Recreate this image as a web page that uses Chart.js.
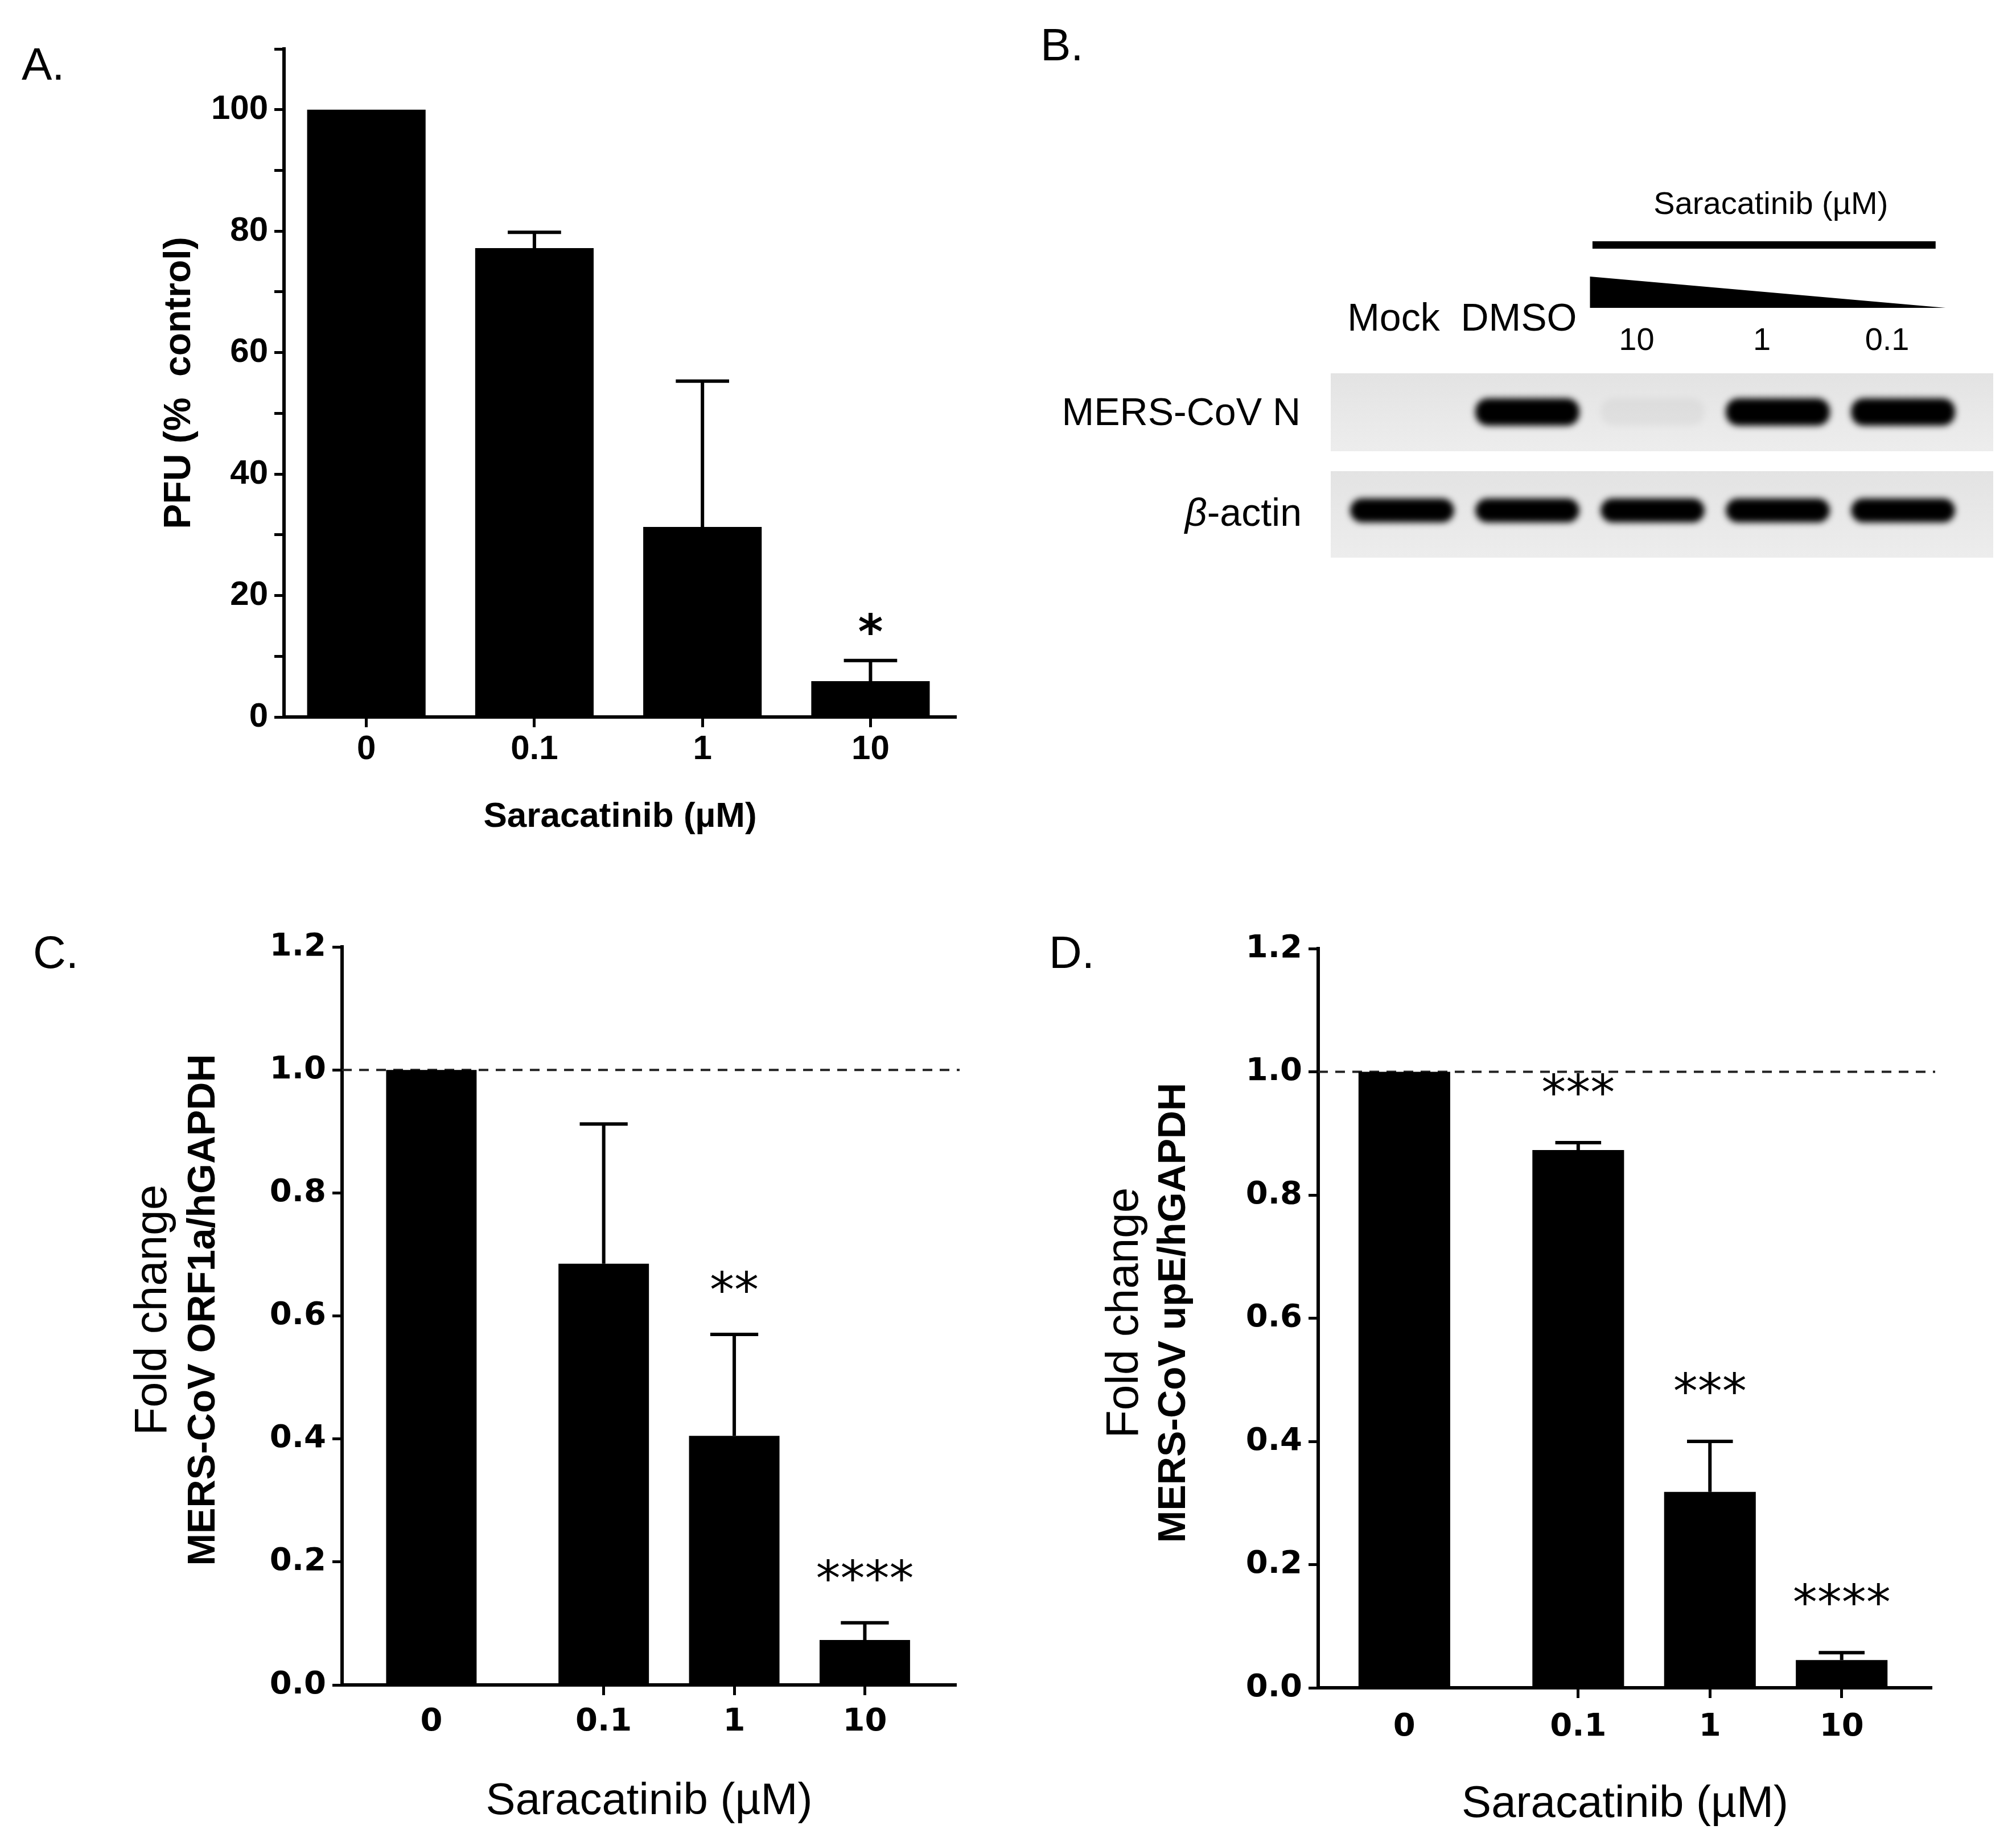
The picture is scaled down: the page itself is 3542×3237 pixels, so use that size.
<!DOCTYPE html>
<html lang="en">
<head>
<meta charset="UTF-8">
<title>Saracatinib inhibits MERS-CoV</title>
<script src="https://cdn.jsdelivr.net/npm/chart.js"></script>
<style>
  html, body { margin: 0; padding: 0; background: #fff; }
  #fig { position: relative; width: 3542px; height: 3237px; overflow: hidden; }
  canvas { position: absolute; }
</style>
</head>
<body>
<div id="fig">
  <canvas id="chartA" width="1771" height="1550" style="left:0;top:0"></canvas>
  <canvas id="chartB" width="1771" height="1100" style="left:1771px;top:0"></canvas>
  <canvas id="chartC" width="1771" height="1687" style="left:0;top:1550px"></canvas>
  <canvas id="chartD" width="1771" height="1687" style="left:1771px;top:1550px"></canvas>
</div>
<script>
// ---- data ----
const doses = ['0', '0.1', '1', '10'];

// A: plaque assay
const pfuMean = [100, 77.2, 31.3, 5.9];
const pfuSd = [0, 2.6, 24.0, 3.4];
const pfuSig = ['', '', '', '*'];

// C: ORF1a qPCR
const orf1aMean = [1.0, 0.685, 0.405, 0.073];
const orf1aSd = [0, 0.227, 0.165, 0.028];
const orf1aSig = ['', '', '**', '****'];

// D: upE qPCR
const upEMean = [1.0, 0.873, 0.318, 0.045];
const upESd = [0, 0.012, 0.082, 0.012];
const upESig = ['', '***', '***', '****'];

// B: western blot, relative band intensity per lane
const blotLanes = ['Mock', 'DMSO', '10', '1', '0.1'];
const mersNBand = [0, 1, 0.04, 1, 1];
const actinBand = [1, 1, 1, 1, 1];

// ---- shared look ----
const ARIAL = '"Liberation Sans", Arial, sans-serif';
const DEJAVU = '"DejaVu Sans", sans-serif';
Chart.defaults.font.family = ARIAL;
Chart.defaults.color = '#000';

function txt(ctx, s, x, y, font, align, base) {
  ctx.save();
  ctx.font = font;
  ctx.fillStyle = '#000';
  ctx.textAlign = align || 'left';
  ctx.textBaseline = base || 'alphabetic';
  ctx.fillText(s, x, y);
  ctx.restore();
}

function vtxt(ctx, s, x, y, font) {
  ctx.save();
  ctx.translate(x, y);
  ctx.rotate(-Math.PI / 2);
  ctx.font = font;
  ctx.fillStyle = '#000';
  ctx.textAlign = 'center';
  ctx.textBaseline = 'middle';
  ctx.fillText(s, 0, 0);
  ctx.restore();
}

// error bars (upper SD), significance stars, reference line, labels
function decor(o) {
  return {
    id: 'decor',
    beforeDatasetsDraw(chart) {
      if (!o.refLine) return;
      const {ctx, chartArea: a, scales: {y}} = chart;
      const py = y.getPixelForValue(o.refLine);
      ctx.save();
      ctx.strokeStyle = '#222';
      ctx.lineWidth = 4;
      ctx.setLineDash([17, 13]);
      ctx.beginPath();
      ctx.moveTo(a.left, py);
      ctx.lineTo(a.right + 6, py);
      ctx.stroke();
      ctx.restore();
    },
    afterDatasetsDraw(chart) {
      const {ctx, scales: {y}} = chart;
      const bars = chart.getDatasetMeta(0).data;
      ctx.save();
      ctx.strokeStyle = '#000';
      ctx.lineWidth = 6;
      bars.forEach((b, i) => {
        const top = y.getPixelForValue(o.mean[i] + o.sd[i]);
        if (o.sd[i] > 0) {
          const half = b.width * o.capFrac / 2;
          ctx.beginPath();
          ctx.moveTo(b.x, b.y);
          ctx.lineTo(b.x, top);
          ctx.moveTo(b.x - half, top);
          ctx.lineTo(b.x + half, top);
          ctx.stroke();
        }
        if (o.sig[i]) txt(ctx, o.sig[i], b.x, top - o.starGap, o.starFont, 'center');
      });
      ctx.restore();
      txt(ctx, o.letter, o.letterX, o.letterY, '80px ' + ARIAL);
      if (o.yTitles) o.yTitles.forEach(t => vtxt(ctx, t.text, t.x, t.y, t.font));
    }
  };
}

function barPanel(id, o) {
  return new Chart(document.getElementById(id), {
    type: 'bar',
    data: {
      datasets: [{
        data: o.mean.map((v, i) => ({x: o.slots[i], y: v})),
        backgroundColor: '#000',
        borderWidth: 0,
        barPercentage: o.barPct,
        categoryPercentage: 1
      }]
    },
    options: {
      responsive: false,
      animation: false,
      events: [],
      layout: {padding: o.pad},
      plugins: {legend: {display: false}, tooltip: {enabled: false}},
      scales: {
        x: {
          type: 'linear',
          min: o.xMin, max: o.xMax,
          offset: false,
          afterBuildTicks: s => { s.ticks = o.slots.map(v => ({value: v})); },
          afterFit: s => { s.height = o.xH; },
          ticks: {
            autoSkip: false, maxRotation: 0, padding: o.xTickPad,
            font: o.tickFont,
            callback: (v, i) => doses[i]
          },
          grid: {
            drawOnChartArea: false, offset: false, tickLength: 18, tickWidth: 5,
            tickColor: c => (o.skipFirstTick && c.index === 0) ? 'rgba(0,0,0,0)' : '#000'
          },
          border: {color: '#000', width: 6},
          title: o.xTitle
        },
        y: {
          min: 0, max: o.yMax,
          afterFit: s => { s.width = o.yW; },
          ticks: {
            stepSize: o.yStep, padding: 11, font: o.tickFont,
            callback: o.yLabel
          },
          grid: {drawOnChartArea: false, tickLength: 17, tickWidth: 5, tickColor: '#000'},
          border: {color: '#000', width: 6},
          title: o.yTitle || {display: false}
        }
      }
    },
    plugins: [decor(o)]
  });
}

// ---- A ----
barPanel('chartA', {
  mean: pfuMean, sd: pfuSd, sig: pfuSig,
  slots: [1, 2, 3, 4], xMin: 0.51, xMax: 4.51, barPct: 0.705,
  pad: {left: 0, top: 86, right: 91, bottom: 0}, yW: 499, xH: 290,
  yMax: 110, yStep: 10, yLabel: v => (v % 20 === 0 ? v : ''),
  tickFont: {family: ARIAL, size: 60, weight: 'bold'}, xTickPad: 3,
  xTitle: {display: true, text: 'Saracatinib (µM)', font: {family: ARIAL, size: 62, weight: 'bold'}, padding: {top: 0, bottom: 77}},
  yTitle: {display: true, text: 'PFU (%  control)', font: {family: ARIAL, size: 66, weight: 'bold'}, padding: {top: 276, bottom: 0}},
  capFrac: 0.45, starGap: 22, starFont: 'bold 84px ' + DEJAVU,
  letter: 'A.', letterX: 38, letterY: 140
});

// ---- C ----
barPanel('chartC', {
  mean: orf1aMean, sd: orf1aSd, sig: orf1aSig,
  slots: [1, 2.32, 3.32, 4.32], xMin: 0.316, xMax: 5.02, barPct: 0.693,
  pad: {left: 0, top: 114, right: 91, bottom: 0}, yW: 601, xH: 276,
  yMax: 1.2, yStep: 0.2, yLabel: v => v.toFixed(1), refLine: 1,
  tickFont: {family: DEJAVU, size: 56, weight: 'bold'}, xTickPad: 14, skipFirstTick: true,
  xTitle: {display: true, text: 'Saracatinib (µM)', font: {family: ARIAL, size: 78}, padding: {top: 0, bottom: 24}},
  yTitles: [
    {text: 'Fold change', x: 270, y: 752, font: '80px ' + ARIAL},
    {text: 'MERS-CoV ORF1a/hGAPDH', x: 358, y: 752, font: 'bold 68px ' + ARIAL}
  ],
  capFrac: 0.53, starGap: 48, starFont: '86px ' + DEJAVU,
  letter: 'C.', letterX: 58, letterY: 151
});

// ---- D ----
barPanel('chartD', {
  mean: upEMean, sd: upESd, sig: upESig,
  slots: [1, 2.32, 3.32, 4.32], xMin: 0.346, xMax: 5.004, barPct: 0.696,
  pad: {left: 0, top: 117, right: 148, bottom: 0}, yW: 545, xH: 271,
  yMax: 1.2, yStep: 0.2, yLabel: v => v.toFixed(1), refLine: 1,
  tickFont: {family: DEJAVU, size: 56, weight: 'bold'}, xTickPad: 18, skipFirstTick: true,
  xTitle: {display: true, text: 'Saracatinib (µM)', font: {family: ARIAL, size: 78}, padding: {top: 0, bottom: 19}},
  yTitles: [
    {text: 'Fold change', x: 206, y: 757, font: '80px ' + ARIAL},
    {text: 'MERS-CoV upE/hGAPDH', x: 292, y: 757, font: 'bold 68px ' + ARIAL}
  ],
  capFrac: 0.5, starGap: 58, starFont: '86px ' + DEJAVU,
  letter: 'D.', letterX: 72, letterY: 151
});

// ---- B: western blot drawn as blurred floating bars ----
const laneSlots = blotLanes.map((l, i) => i + 1);
const rowN = [44, 92];       // band extent inside the blot frame (px from top)
const rowActin = [220, 262];
const strips = [[0, 137], [172, 324]];

const blotDecor = {
  id: 'blotDecor',
  beforeDatasetsDraw(chart) {
    const {ctx, chartArea: a, scales: {y}} = chart;
    ctx.save();
    strips.forEach(([t, b]) => {
      const g = ctx.createLinearGradient(0, y.getPixelForValue(t), 0, y.getPixelForValue(b));
      g.addColorStop(0, '#e3e3e3');
      g.addColorStop(1, '#ededed');
      ctx.fillStyle = g;
      ctx.fillRect(a.left, y.getPixelForValue(t), a.right - a.left, y.getPixelForValue(b) - y.getPixelForValue(t));
    });
    ctx.restore();
    ctx.save();
    ctx.filter = 'blur(6px)';
  },
  afterDatasetsDraw(chart) {
    const {ctx, scales: {x, y}} = chart;
    ctx.restore();
    const lab = '68px ' + ARIAL;
    const num = '56px ' + ARIAL;
    // lane labels
    txt(ctx, 'Mock', x.getPixelForValue(1) - 15, 562, lab, 'center', 'middle');
    txt(ctx, 'DMSO', x.getPixelForValue(2) - 15, 562, lab, 'center', 'middle');
    [3, 4, 5].forEach(l => txt(ctx, blotLanes[l - 1], x.getPixelForValue(l) - 28, 600, num, 'center', 'middle'));
    // treatment bar and concentration wedge
    ctx.save();
    ctx.fillStyle = '#000';
    ctx.fillRect(x.getPixelForValue(2.52), 424, x.getPixelForValue(5.26) - x.getPixelForValue(2.52), 13);
    ctx.beginPath();
    ctx.moveTo(x.getPixelForValue(2.5), 486);
    ctx.lineTo(x.getPixelForValue(5.34), 541);
    ctx.lineTo(x.getPixelForValue(2.5), 541);
    ctx.closePath();
    ctx.fill();
    ctx.restore();
    txt(ctx, 'Saracatinib (µM)', (x.getPixelForValue(2.52) + x.getPixelForValue(5.26)) / 2 + 12, 361, num, 'center', 'middle');
    // row labels
    txt(ctx, 'MERS-CoV N', 514, y.getPixelForValue((rowN[0] + rowN[1]) / 2) + 4, lab, 'right', 'middle');
    ctx.save();
    ctx.font = lab;
    const w = ctx.measureText('-actin').width;
    ctx.restore();
    const ay = y.getPixelForValue((rowActin[0] + rowActin[1]) / 2) + 8;
    txt(ctx, '-actin', 516, ay, lab, 'right', 'middle');
    txt(ctx, 'β', 516 - w, ay, 'italic ' + lab, 'right', 'middle');
    txt(ctx, 'B.', 57, 106, '80px ' + ARIAL);
  }
};

new Chart(document.getElementById('chartB'), {
  type: 'bar',
  data: {
    datasets: [
      {
        data: laneSlots.map(v => ({x: v, y: rowN})),
        backgroundColor: mersNBand.map(a => `rgba(0,0,0,${a})`)
      },
      {
        data: laneSlots.map(v => ({x: v, y: rowActin})),
        backgroundColor: actinBand.map(a => `rgba(0,0,0,${a})`)
      }
    ]
  },
  options: {
    responsive: false,
    animation: false,
    events: [],
    layout: {padding: {left: 567, right: 40, top: 656, bottom: 120}},
    plugins: {legend: {display: false}, tooltip: {enabled: false}},
    datasets: {
      bar: {
        grouped: false, borderWidth: 0, borderSkipped: false, borderRadius: 22,
        barPercentage: 0.83, categoryPercentage: 1
      }
    },
    scales: {
      x: {
        type: 'linear', display: false, min: 0.43, max: 5.72, offset: false,
        afterBuildTicks: s => { s.ticks = laneSlots.map(v => ({value: v})); }
      },
      y: {display: false, min: 0, max: 324, reverse: true}
    }
  },
  plugins: [blotDecor]
});
</script>
</body>
</html>
